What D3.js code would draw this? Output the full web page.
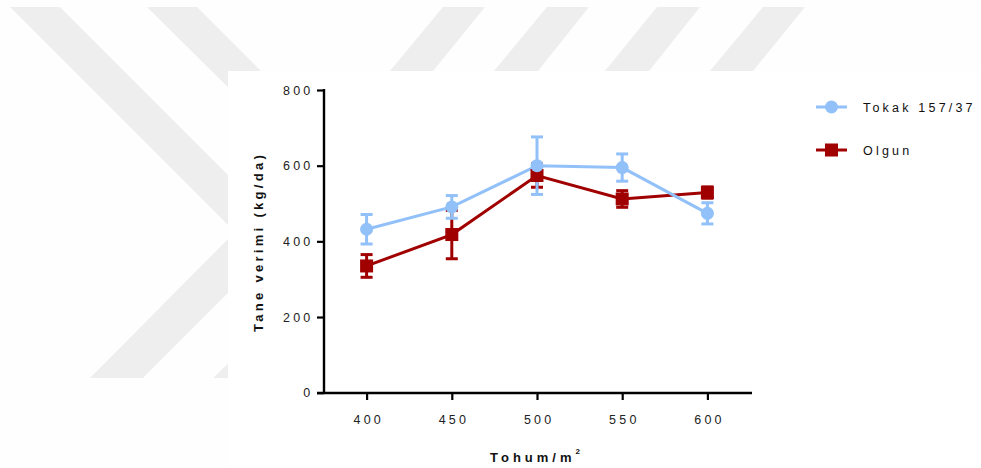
<!DOCTYPE html>
<html>
<head>
<meta charset="utf-8">
<script src="https://cdn.jsdelivr.net/npm/d3@7"></script>
<style>
  body { margin: 0; background: #ffffff; }
  text { font-family: "Liberation Sans", Arial, sans-serif; }
</style>
</head>
<body>
<div class="article"></div>
<script>
//chart data
var seeds = [400, 450, 500, 550, 600];
var tokakMean = [432, 491, 600, 595, 474];
var tokakErr = [39, 30, 76, 36, 28];
var olgunMean = [335, 418, 574, 512, 529];
var olgunErr = [30, 64, 31, 22, 15];
var yTicks = [0, 200, 400, 600, 800];
var seriesNames = ["Tokak 157/37", "Olgun"];

var blue = "#92c0f8";
var red = "#a00000";

//setting svg dimension
var svgWidth = 981;
var svgHeight = 468;

var svg = d3.select(".article")
  .append("svg")
  .attr("width", svgWidth)
  .attr("height", svgHeight);

svg.append("rect")
  .attr("width", svgWidth)
  .attr("height", svgHeight)
  .attr("fill", "#fefefe");

//background watermark
var wm = svg.append("g").attr("fill", "#eeeeee");
var shapes = [
  [[10, 7], [60, 7], [287, 234], [143, 378], [90, 378], [235, 232]],
  [[147, 7], [197, 7], [420, 230], [266, 378], [213, 378], [370, 228]],
  [[443, 7], [485, 7], [433, 71], [390, 71]],
  [[547, 7], [589, 7], [538, 71], [494, 71]],
  [[657, 7], [700, 7], [649, 71], [605, 71]],
  [[763, 7], [805, 7], [753, 71], [710, 71]]
];
shapes.forEach(s => {
  wm.append("polygon").attr("points", s.map(p => p.join(",")).join(" "));
});

svg.append("rect")
  .attr("x", 228)
  .attr("y", 71)
  .attr("width", svgWidth - 228)
  .attr("height", svgHeight - 71)
  .attr("fill", "#ffffff");

//scales
var xScale = d3.scaleLinear().domain([375, 625]).range([324, 750]);
var yScale = d3.scaleLinear().domain([0, 800]).range([392.7, 90]);

//y axis
var yAxis = svg.append("g")
  .attr("transform", "translate(324,0)")
  .call(d3.axisLeft(yScale).tickValues(yTicks).tickSize(7).tickSizeOuter(0).tickPadding(3.5));
yAxis.select(".domain").attr("stroke-width", 2.4).attr("d", "M0,393.5V89");
yAxis.selectAll(".tick line").attr("stroke-width", 2.2);
yAxis.selectAll("text")
  .attr("font-size", 12.5)
  .attr("letter-spacing", 3.2)
  .attr("fill", "#222")
  .attr("font-family", "Liberation Sans, Arial, sans-serif");

//x axis
var xAxis = svg.append("g")
  .attr("transform", "translate(0,393)")
  .call(d3.axisBottom(xScale).tickValues(seeds).tickSize(7).tickSizeOuter(0).tickPadding(15));
xAxis.select(".domain").attr("stroke-width", 2.6).attr("d", "M317,0H752");
xAxis.selectAll(".tick line").attr("stroke-width", 2.2);
xAxis.selectAll("text")
  .attr("font-size", 12.5)
  .attr("letter-spacing", 3.2)
  .attr("dx", 1.6)
  .attr("fill", "#222")
  .attr("font-family", "Liberation Sans, Arial, sans-serif");

//axis titles
svg.append("text")
  .attr("transform", "translate(263,242) rotate(-90)")
  .attr("text-anchor", "middle")
  .attr("font-weight", "bold")
  .attr("font-size", 13)
  .attr("letter-spacing", 3.3)
  .attr("fill", "#111")
  .text("Tane verimi (kg/da)");

var xt = svg.append("text")
  .attr("x", 537)
  .attr("y", 462)
  .attr("text-anchor", "middle")
  .attr("font-weight", "bold")
  .attr("font-size", 13)
  .attr("letter-spacing", 4)
  .attr("fill", "#111");
xt.append("tspan").text("Tohum/m");
xt.append("tspan").attr("font-size", 8).attr("dy", -8).text("2");

//series
var tokak = seeds.map((s, i) => ({x: s, y: tokakMean[i], e: tokakErr[i]}));
var olgun = seeds.map((s, i) => ({x: s, y: olgunMean[i], e: olgunErr[i]}));

function errorBars(data, color) {
  var g = svg.append("g").attr("stroke", color).attr("stroke-width", 3);
  g.selectAll("line.stem").data(data).enter().append("line")
    .attr("x1", d => xScale(d.x)).attr("x2", d => xScale(d.x))
    .attr("y1", d => yScale(d.y - d.e)).attr("y2", d => yScale(d.y + d.e));
  g.selectAll("line.top").data(data).enter().append("line")
    .attr("x1", d => xScale(d.x) - 6).attr("x2", d => xScale(d.x) + 6)
    .attr("y1", d => yScale(d.y + d.e)).attr("y2", d => yScale(d.y + d.e));
  g.selectAll("line.bot").data(data).enter().append("line")
    .attr("x1", d => xScale(d.x) - 6).attr("x2", d => xScale(d.x) + 6)
    .attr("y1", d => yScale(d.y - d.e)).attr("y2", d => yScale(d.y - d.e));
}

var line = d3.line().x(d => xScale(d.x)).y(d => yScale(d.y));

errorBars(olgun, red);
errorBars(tokak, blue);

svg.append("path").datum(olgun)
  .attr("d", line).attr("fill", "none").attr("stroke", red).attr("stroke-width", 3);
svg.append("path").datum(tokak)
  .attr("d", line).attr("fill", "none").attr("stroke", blue).attr("stroke-width", 3);

svg.append("g").selectAll("rect").data(olgun).enter().append("rect")
  .attr("x", d => xScale(d.x) - 6.5)
  .attr("y", d => yScale(d.y) - 6.5)
  .attr("width", 13).attr("height", 13)
  .attr("fill", red);

svg.append("g").selectAll("circle").data(tokak).enter().append("circle")
  .attr("cx", d => xScale(d.x))
  .attr("cy", d => yScale(d.y))
  .attr("r", 6.5)
  .attr("fill", blue);

//legend
var legend = svg.append("g");
var legendColors = [blue, red];
seriesNames.forEach((name, i) => {
  var ly = 107 + i * 43;
  legend.append("line")
    .attr("x1", 816).attr("x2", 847)
    .attr("y1", ly).attr("y2", ly)
    .attr("stroke", legendColors[i]).attr("stroke-width", 3);
  if (i === 0) {
    legend.append("circle").attr("cx", 831.5).attr("cy", ly).attr("r", 6.5).attr("fill", blue);
  } else {
    legend.append("rect").attr("x", 825).attr("y", ly - 6.5).attr("width", 13).attr("height", 13).attr("fill", red);
  }
  legend.append("text")
    .attr("x", 863).attr("y", ly + 4.5)
    .attr("font-size", 12.5)
    .attr("letter-spacing", 3.2)
    .attr("fill", "#111")
    .text(name);
});
</script>
</body>
</html>
